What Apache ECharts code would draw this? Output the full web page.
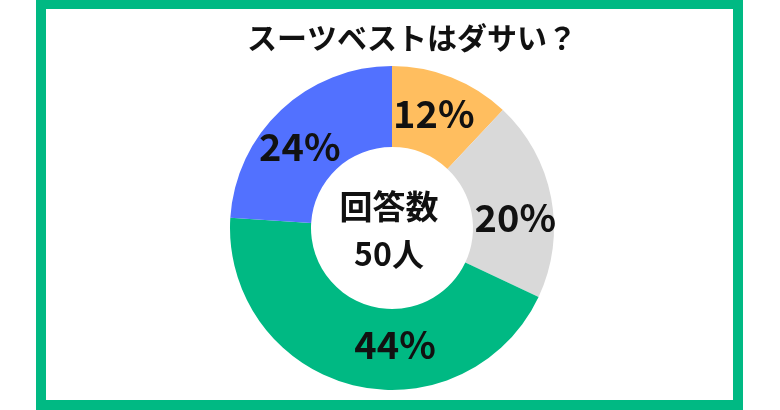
<!DOCTYPE html>
<html><head><meta charset="utf-8">
<script src="https://cdn.jsdelivr.net/npm/echarts@6/dist/echarts.min.js"></script>
<style>html,body{margin:0;padding:0;background:#fff}#c{width:780px;height:410px}</style>
</head><body><div id="c"></div>
<script>
const titleText = 'スーツベストはダサい？';
const categories = ['A', 'B', 'C', 'D'];
const values = [12, 20, 44, 24];
const colors = ['#FFBE5F', '#D9D9D9', '#00B983', '#5271FF'];
const labelOffsets = [[-4, 1], [1, 13], [34, -4], [-7, 9]];
const centerLines = ['回答数', '50人'];
const FONT = '"Noto Sans CJK JP", "Noto Sans", sans-serif';

const chart = echarts.init(document.getElementById('c'));
chart.setOption({
  animation: false,
  backgroundColor: '#fff',
  title: {
    text: titleText,
    left: 407, top: 18, textAlign: 'center',
    textStyle: { fontFamily: FONT, fontWeight: 'bold', fontSize: 30, color: '#111' }
  },
  graphic: [
    { type: 'rect', shape: { x: 41, y: 4, width: 697, height: 401 },
      style: { fill: 'none', stroke: '#00B983', lineWidth: 10 }, z: 100 },
    { type: 'text', x: 389, y: 206, style: { text: centerLines[0], x: 0, y: 0, textAlign: 'center', textVerticalAlign: 'middle',
      fontFamily: FONT, fontWeight: 'bold', fontSize: 33, fill: '#111' }, z: 50 },
    { type: 'text', x: 389, y: 254, style: { text: centerLines[1], x: 0, y: 0, textAlign: 'center', textVerticalAlign: 'middle',
      fontFamily: FONT, fontWeight: 'bold', fontSize: 32, fill: '#111' }, z: 50 }
  ],
  series: [{
    type: 'pie',
    center: [392, 228],
    radius: [81, 162],
    startAngle: 90,
    clockwise: true,
    silent: true,
    data: categories.map((c, i) => ({
      name: c, value: values[i],
      itemStyle: { color: colors[i] },
      label: { offset: labelOffsets[i] }
    })),
    label: {
      show: true, position: 'inside',
      formatter: p => p.value + '%',
      fontFamily: FONT, fontWeight: 'bold', fontSize: 38, color: '#111'
    },
    labelLine: { show: false }
  }]
});
</script></body></html>
